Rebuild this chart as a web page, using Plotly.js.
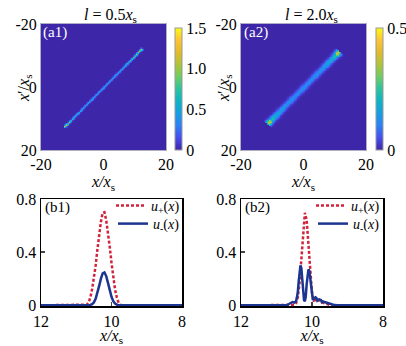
<!DOCTYPE html>
<html><head><meta charset="utf-8">
<script src="https://cdn.plot.ly/plotly-3.0.1.min.js"></script>
<style>html,body{margin:0;padding:0;background:#fff}#plot{width:406px;height:346px}</style>
</head><body><div id="plot"></div>
<script>
// ---------- heatmap data (intensity along the anti-diagonal x' = -x) ----------
const gridMin = -20, gridMax = 20, gridStep = 0.5;
// a1 (l = 0.5 x_s): values along the line at x = -12 .. 12 (step 1)
const a1AlongStart = -12;
const a1Along = [1.2, 0.9, 0.7, 0.62, 0.58, 0.55, 0.52, 0.5, 0.5, 0.5, 0.5, 0.5, 0.5, 0.5, 0.5, 0.5, 0.5, 0.52, 0.55, 0.6, 0.65, 0.75, 0.85, 0.95, 1.1];
const a1Cross = [1, 0.2];
// a2 (l = 2.0 x_s): values along the line at x = -11 .. 11 (step 1)
const a2AlongStart = -11;
const a2Along = [0.38, 0.24, 0.19, 0.17, 0.15, 0.14, 0.13, 0.13, 0.12, 0.12, 0.12, 0.12, 0.12, 0.12, 0.12, 0.13, 0.13, 0.14, 0.15, 0.17, 0.19, 0.24, 0.38];
const a2Cross = [1, 0.85, 0.55, 0.25, 0.08, 0.02];
const a1Ticks = [0, 0.5, 1, 1.5], a1TickText = ['0', '0.5', '1.0', '1.5'];
const a2Ticks = [0, 0.5], a2TickText = ['0', '0.5'];

// ---------- line data ----------
const b1PlusX  = [12, 10.8, 10.7, 10.65, 10.6, 10.55, 10.5, 10.45, 10.4, 10.35, 10.3, 10.25, 10.2, 10.15, 10.1, 10.05, 10.0, 9.95, 9.9, 9.85, 9.8, 9.75, 9.7, 9.6, 8];
const b1Plus   = [0, 0, 0.005, 0.02, 0.06, 0.12, 0.20, 0.30, 0.42, 0.54, 0.63, 0.695, 0.70, 0.64, 0.55, 0.44, 0.32, 0.21, 0.12, 0.06, 0.02, 0.005, 0, 0, 0];
const b1MinusX = [12, 10.65, 10.6, 10.55, 10.5, 10.45, 10.4, 10.35, 10.3, 10.25, 10.2, 10.15, 10.1, 10.05, 10.0, 9.95, 9.9, 9.85, 9.8, 8];
const b1Minus  = [0, 0, 0.003, 0.009, 0.022, 0.049, 0.091, 0.146, 0.201, 0.241, 0.248, 0.220, 0.169, 0.112, 0.064, 0.031, 0.013, 0.005, 0, 0];
const b2PlusX  = [12, 10.55, 10.5, 10.45, 10.4, 10.35, 10.3, 10.25, 10.2, 10.15, 10.1, 10.05, 10.0, 9.95, 9.9, 9.85, 9.8, 9.75, 9.7, 9.6, 9.5, 9.4, 8];
const b2Plus   = [0, 0, 0.003, 0.016, 0.061, 0.169, 0.358, 0.574, 0.696, 0.640, 0.448, 0.235, 0.094, 0.035, 0.04, 0.03, 0.04, 0.025, 0.02, 0.01, 0.003, 0, 0];
const b2MinusX = [12, 10.8, 10.7, 10.65, 10.6, 10.55, 10.5, 10.45, 10.425, 10.4, 10.375, 10.35, 10.325, 10.3, 10.275, 10.25, 10.225, 10.2, 10.175, 10.15, 10.125, 10.1, 10.075, 10.05, 10.025, 10.0, 9.975, 9.95, 9.9, 9.875, 9.85, 9.8, 9.75, 9.725, 9.7, 9.65, 9.6, 9.5, 9.4, 9.3, 8];
const b2Minus  = [0, 0, 0.003, 0.01, 0.02, 0.025, 0.02, 0.03, 0.06, 0.10, 0.18, 0.26, 0.30, 0.28, 0.20, 0.10, 0.04, 0.03, 0.07, 0.16, 0.24, 0.27, 0.26, 0.20, 0.12, 0.06, 0.04, 0.05, 0.06, 0.055, 0.035, 0.045, 0.04, 0.025, 0.03, 0.025, 0.02, 0.01, 0.005, 0, 0];
const xTicksB = [12, 10, 8], yTicksB = [0, 0.4, 0.8], yTickTextB = ['0', '0.4', '0.8'];
const hmTicks = [-20, 0, 20], hmTickText = ['-20', '0', '20'];

// ---------- build heatmap tables ----------
const grid = [];
for (let v = gridMin; v <= gridMax + 1e-9; v += gridStep) grid.push(+v.toFixed(3));
function buildZ(along, start, cross) {
  const n = grid.length, mid = (n - 1) / 2, z = [];
  for (let j = 0; j < n; j++) {
    const row = [];
    for (let i = 0; i < n; i++) {
      const k = Math.abs((i - mid) + (j - mid));
      let v = 0;
      if (k < cross.length) {
        const s = (grid[i] - grid[j]) / 2;
        const a = Math.round(s - start);
        if (a >= 0 && a < along.length) v = along[a] * cross[k];
      }
      row.push(v);
    }
    z.push(row);
  }
  return z;
}
const parula = [[0,'rgb(62,38,168)'],[0.1,'rgb(70,78,238)'],[0.2,'rgb(45,128,246)'],[0.3,'rgb(22,158,228)'],[0.4,'rgb(12,180,196)'],[0.5,'rgb(42,195,160)'],[0.6,'rgb(110,205,100)'],[0.7,'rgb(175,196,56)'],[0.8,'rgb(226,186,44)'],[0.9,'rgb(252,196,52)'],[1,'rgb(249,251,20)']];

const W = 406, H = 346;
const px = v => v / W, py = v => 1 - v / H;
const serif = '"Liberation Serif", "Times New Roman", serif';
const FS = 16;
const red = '#d2233c', blue = '#1c3591';

function cbar(x, ticks, text) {
  return {x: px(x), xanchor: 'left', xpad: 0, y: py(150), yanchor: 'bottom', ypad: 0,
    len: 122, lenmode: 'pixels', thickness: 7, thicknessmode: 'pixels',
    outlinewidth: 1, outlinecolor: '#999', tickvals: ticks, ticktext: text, ticks: '',
    tickfont: {family: serif, size: FS, color: 'black'}};
}
const plusName = '<i>u</i><sub>+</sub>(<i>x</i>)', minusName = '<i>u</i><sub>-</sub>(<i>x</i>)';

const data = [
  {type: 'heatmap', x: grid, y: grid, z: buildZ(a1Along, a1AlongStart, a1Cross), xaxis: 'x', yaxis: 'y',
   colorscale: parula, zmin: 0, zmax: 1.5, zsmooth: 'best', hoverinfo: 'skip', showscale: true, colorbar: cbar(175, a1Ticks, a1TickText)},
  {type: 'heatmap', x: grid, y: grid, z: buildZ(a2Along, a2AlongStart, a2Cross), xaxis: 'x2', yaxis: 'y2',
   colorscale: parula, zmin: 0, zmax: 0.5, zsmooth: 'best', hoverinfo: 'skip', showscale: true, colorbar: cbar(376, a2Ticks, a2TickText)},
  {type: 'scatter', mode: 'lines', x: b1PlusX, y: b1Plus, xaxis: 'x3', yaxis: 'y3', name: plusName,
   line: {color: red, width: 2.5, dash: '3px,2px'}, legend: 'legend'},
  {type: 'scatter', mode: 'lines', x: b1MinusX, y: b1Minus, xaxis: 'x3', yaxis: 'y3', name: minusName,
   line: {color: blue, width: 2.5}, legend: 'legend2'},
  {type: 'scatter', mode: 'lines', x: b2PlusX, y: b2Plus, xaxis: 'x4', yaxis: 'y4', name: plusName,
   line: {color: red, width: 2.5, dash: '3px,2px'}, legend: 'legend3'},
  {type: 'scatter', mode: 'lines', x: b2MinusX, y: b2Minus, xaxis: 'x4', yaxis: 'y4', name: minusName,
   line: {color: blue, width: 2.5}, legend: 'legend4'}
];

const tf = {family: serif, size: FS, color: 'black'};
const xTitle = s => ({text: '<i>x/x</i><sub>s</sub>', standoff: s, font: tf});
function hmX(dom, anchor) {
  return {domain: dom, anchor: anchor, range: [-20, 20], tickvals: hmTicks, ticktext: hmTickText, ticks: '', tickfont: tf,
    showline: true, mirror: true, linecolor: '#aeaec6', linewidth: 1, showgrid: false, zeroline: false, title: xTitle(0)};
}
function hmY(anchor) {
  return {domain: [py(150), py(24)], anchor: anchor, range: [20, -20], tickvals: hmTicks, ticktext: hmTickText, ticks: '', tickfont: tf,
    showline: true, mirror: true, linecolor: '#aeaec6', linewidth: 1, showgrid: false, zeroline: false};
}
function bX(dom, anchor) {
  return {domain: dom, anchor: anchor, range: [12, 8], tickvals: xTicksB, ticks: 'inside', ticklen: 4, tickwidth: 1.5, tickfont: tf,
    showline: true, mirror: true, linecolor: 'black', linewidth: 1.5, showgrid: false, zeroline: false, title: xTitle(5)};
}
function bY(anchor) {
  return {domain: [py(306), py(199)], anchor: anchor, range: [-0.005, 0.8], tickvals: yTicksB, ticktext: yTickTextB, tickfont: tf,
    ticks: 'inside', ticklen: 4, tickwidth: 1.5, showline: true, mirror: true, linecolor: 'black', linewidth: 1.5,
    showgrid: false, zeroline: false};
}
function leg(xr, yc) {
  return {x: px(xr), xanchor: 'right', y: py(yc), yanchor: 'middle', bgcolor: 'rgba(0,0,0,0)', borderwidth: 0,
    font: {family: serif, size: 14, color: 'black'}, itemwidth: 30};
}
const ann = (x, y, text, opts) => Object.assign({xref: 'paper', yref: 'paper', x: px(x), y: py(y), text: text,
  xanchor: 'center', yanchor: 'middle', showarrow: false, font: tf}, opts || {});

const layout = {
  width: W, height: H, margin: {l: 0, r: 0, t: 0, b: 0}, paper_bgcolor: 'white', plot_bgcolor: 'white',
  font: tf, showlegend: true,
  xaxis: hmX([px(41), px(166)], 'y'), yaxis: hmY('x'),
  xaxis2: hmX([px(241), px(366)], 'y2'), yaxis2: hmY('x2'),
  xaxis3: bX([px(41), px(182)], 'y3'), yaxis3: bY('x3'),
  xaxis4: bX([px(241), px(383)], 'y4'), yaxis4: bY('x4'),
  legend: leg(185, 206), legend2: leg(185, 224), legend3: leg(385, 206), legend4: leg(385, 224),
  annotations: [
    ann(110, 16, '<i>l</i> = 0.5<i>x</i><sub>s</sub>'),
    ann(311, 16, '<i>l</i> = 2.0<i>x</i><sub>s</sub>'),
    ann(24, 88, '<i>x</i>′/<i>x</i><sub>s</sub>', {textangle: -90}),
    ann(224, 88, '<i>x</i>′/<i>x</i><sub>s</sub>', {textangle: -90}),
    ann(55, 33, '(a1)', {font: {family: serif, size: 15, color: 'white'}}),
    ann(256, 33, '(a2)', {font: {family: serif, size: 15, color: 'white'}}),
    ann(57, 207, '(b1)', {font: {family: serif, size: 15, color: 'black'}}),
    ann(257, 207, '(b2)', {font: {family: serif, size: 15, color: 'black'}})
  ]
};
Plotly.newPlot('plot', data, layout, {staticPlot: true, displayModeBar: false});
</script></body></html>
